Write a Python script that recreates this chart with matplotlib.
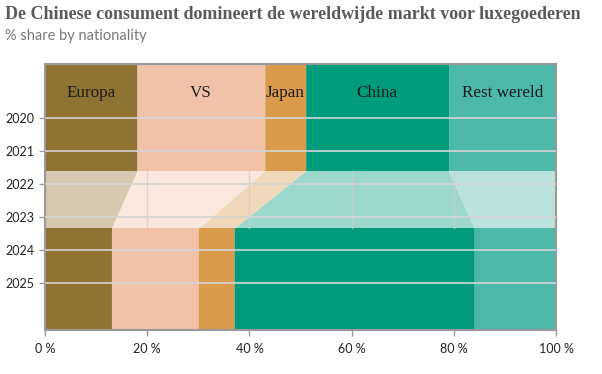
import numpy as np
import matplotlib.pyplot as plt

# data
regions = ['Europa', 'VS', 'Japan', 'China', 'Rest wereld']
years = [2020, 2021, 2022, 2023, 2024, 2025]
share_before = [18, 25, 8, 28, 21]   # 2020-2021
share_after = [13, 17, 7, 47, 16]    # 2024-2025
xticks = [0, 20, 40, 60, 80, 100]
xtick_labels = ['0 %', '20 %', '40 %', '60 %', '80 %', '100 %']

colors = ['#8f7332', '#f2c2a8', '#d99a4c', '#009b7a', '#4bb8a8']

# vertical layout of the bands (in year units)
y_top, y_fade0, y_fade1, y_bot = 2018.36, 2021.61, 2023.35, 2026.43

fig = plt.figure(figsize=(6.02, 3.74), dpi=100)
ax = fig.add_axes([0.0748, 0.1176, 0.8488, 0.7121])

cum_b = np.concatenate([[0], np.cumsum(share_before)])
cum_a = np.concatenate([[0], np.cumsum(share_after)])
ys = [y_top, y_fade0, y_fade1, y_bot]
for i, reg in enumerate(regions):
    left = [cum_b[i], cum_b[i], cum_a[i], cum_a[i]]
    right = [cum_b[i + 1], cum_b[i + 1], cum_a[i + 1], cum_a[i + 1]]
    ax.fill_betweenx(ys, left, right, color=colors[i], lw=0, zorder=1)
    ax.text((cum_b[i] + cum_b[i + 1]) / 2, 2019.25, reg, ha='center', va='center',
            family='Liberation Serif', fontsize=12.3, color='#1a1a1a', zorder=5)

# faded transition band
ax.axhspan(y_fade0, y_fade1, color='white', alpha=0.62, lw=0, zorder=2)
for x in xticks[1:-1]:
    ax.plot([x, x], [y_fade0, y_fade1], color='#cccccc', lw=1, alpha=0.7, zorder=3)

for y in years:
    ax.axhline(y, color='#d4d4d4', lw=1.2, zorder=4)

ax.set_xlim(0, 100)
ax.set_ylim(y_bot, y_top)
ax.set_yticks(years)
ax.set_yticklabels([str(y) for y in years], family='Lato', fontsize=9, color='#222222')
ax.set_xticks(xticks)
ax.set_xticklabels(xtick_labels, family='Lato', fontsize=9, color='#222222')
ax.tick_params(axis='both', length=4, color='#999999', width=1)
ax.tick_params(axis='x', pad=5)
for s in ax.spines.values():
    s.set_color('#999999')
    s.set_linewidth(1.5)

fig.text(0.008, 0.962, 'De Chinese consument domineert de wereldwijde markt voor luxegoederen',
         family='Liberation Serif', fontweight='bold', fontsize=13.0, color='#5a5a5a', va='center')
fig.text(0.008, 0.905, '% share by nationality', family='Lato', fontsize=10.5,
         color='#777777', va='center')

fig.savefig('out.png', dpi=100)
